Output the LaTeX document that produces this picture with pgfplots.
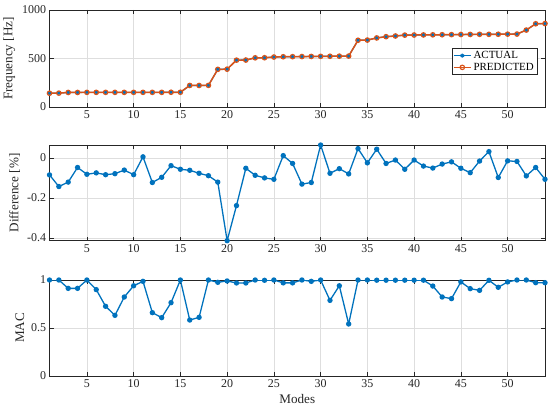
\documentclass[border=0pt]{standalone}
\usepackage{fontspec}
\setmainfont{Liberation Serif}
\usepackage{pgfplots}
\pgfplotsset{compat=1.18}
\usepackage{pgfplotstable}
\definecolor{mblue}{rgb}{0,0.447,0.741}
\definecolor{morange}{rgb}{0.851,0.325,0.098}
\definecolor{mgrid}{rgb}{0.87,0.87,0.87}
\definecolor{maxis}{rgb}{0.15,0.15,0.15}

\pgfplotstableread{
n freq diff mac
1 142 -0.085 1.0
2 143 -0.143 1.0
3 150 -0.121 0.913
4 150 -0.048 0.913
5 151 -0.082 1.0
6 151 -0.075 0.90
7 151 -0.084 0.726
8 151 -0.079 0.632
9 151 -0.061 0.823
10 151 -0.084 0.94
11 151 0.005 0.986
12 151 -0.123 0.66
13 151 -0.097 0.608
14 152 -0.039 0.764
15 152 -0.057 1.0
16 222 -0.062 0.583
17 222 -0.077 0.611
18 223 -0.089 1.0
19 388 -0.121 0.976
20 390 -0.413 0.99
21 483 -0.238 0.969
22 484 -0.052 0.969
23 507 -0.087 1.0
24 508 -0.100 0.997
25 515 -0.107 1.0
26 518 0.011 0.97
27 519 -0.028 0.97
28 520 -0.131 1.0
29 521 -0.123 0.986
30 522 0.064 1.0
31 523 -0.077 0.788
32 524 -0.054 0.94
33 525 -0.080 0.542
34 688 0.046 1.0
35 690 -0.025 1.0
36 712 0.043 0.998
37 725 -0.028 0.998
38 732 -0.011 0.998
39 741 -0.057 0.998
40 742 -0.011 0.998
41 743 -0.041 0.998
42 744 -0.051 0.937
43 745 -0.031 0.823
44 746 -0.020 0.806
45 747 -0.052 0.98
46 748 -0.074 0.91
47 749 -0.016 0.892
48 749 0.031 0.997
49 750 -0.098 0.924
50 751 -0.015 0.98
51 752 -0.018 1.0
52 793 -0.090 1.0
53 858 -0.048 0.972
54 860 -0.107 0.972
}\datatable

\pgfplotsset{
  every axis/.append style={
    scale only axis,
    width=495.5bp,
    xmin=1, xmax=54,
    xtick={5,10,...,50},
    grid=major,
    major grid style={mgrid, line width=0.5pt},
    axis line style={maxis, line width=0.5pt},
    tick style={maxis, line width=0.5pt},
    major tick length=4bp,
    tick label style={font=\fontsize{12}{14}\selectfont, text=maxis},
    label style={font=\fontsize{13.2}{15}\selectfont, text=maxis},
    /pgf/number format/assume math mode=true,
    /pgf/number format/1000 sep={},
    anchor=south west,
  }
}

\begin{document}
\begin{tikzpicture}[x=1bp,y=1bp]
\path[use as bounding box] (0,0) rectangle (550,413);

\begin{axis}[
  at={(49.5bp,306bp)}, height=97bp,
  ymin=0, ymax=1000, ytick={0,500,1000},
  yticklabels={0,500,1000},
  ylabel={Frequency [Hz]},
  legend style={at={(0.984,0.608)}, anchor=north east, font=\fontsize{11}{12}\selectfont, draw=maxis, line width=0.5pt, inner sep=1pt, row sep=-1pt},
  legend cell align=left,
]
\addplot[mblue, line width=1.2pt, mark=asterisk, mark size=2bp] table[x=n, y=freq] {\datatable};
\addlegendentry{ACTUAL}
\addplot[morange, line width=1.5pt, mark=o, mark size=2.2bp, mark options={line width=1.2pt}] table[x=n, y=freq] {\datatable};
\addlegendentry{PREDICTED}
\end{axis}

\begin{axis}[
  at={(49.5bp,172.3bp)}, height=95.7bp,
  ymin=-0.413, ymax=0.064, ytick={-0.4,-0.2,0},
  yticklabels={-0.4,-0.2,0},
  ylabel={Difference [\%]},
]
\addplot[mblue, line width=1.3pt, mark=*, mark size=2bp] table[x=n, y=diff] {\datatable};
\end{axis}

\begin{axis}[
  at={(49.5bp,37bp)}, height=96bp,
  ymin=0, ymax=1, ytick={0,0.5,1},
  yticklabels={0,0.5,1},
  ylabel={MAC},
  xlabel={Modes},
]
\addplot[mblue, line width=1.3pt, mark=*, mark size=2bp] table[x=n, y=mac] {\datatable};
\end{axis}
\end{tikzpicture}
\end{document}
